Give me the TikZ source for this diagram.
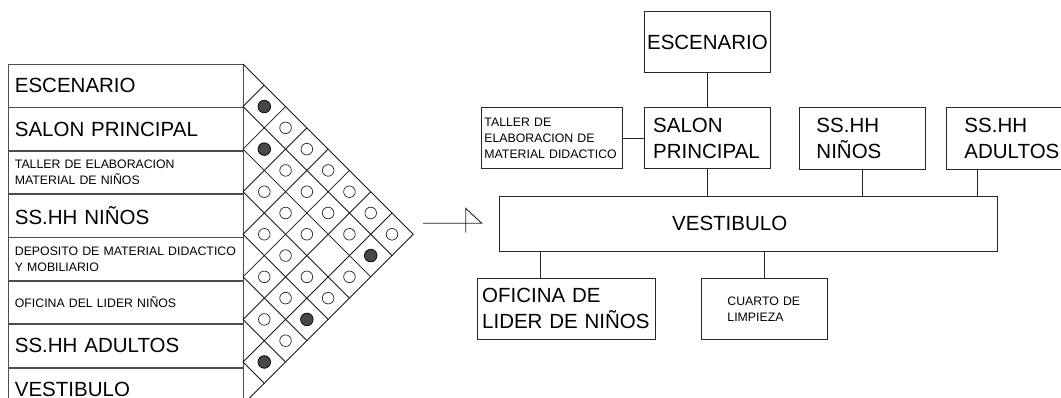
\documentclass[tikz,border=0pt]{standalone}
\usepackage{fontspec}
\setmainfont{Liberation Sans}
\usepackage{tikz}
\usetikzlibrary{positioning,calc}
\newcommand{\bigtxt}{\fontsize{20.5}{26}\selectfont}
\newcommand{\smalltxt}{\fontsize{12.3}{16}\selectfont}

\begin{document}
\begin{tikzpicture}[
    x=1pt, y=-1pt,
    box/.style={rectangle, draw=black!85, line width=0.9pt, anchor=north west, align=left, inner ysep=0pt},
    rowbox/.style={box, draw=black!70, line width=0.8pt, minimum height=42.57pt, inner xsep=6.5pt, text width=222pt},
    gridline/.style={line width=0.85pt, black!90},
    link/.style={line width=0.9pt, black!85},
    hollow/.style={draw=black!85, line width=0.7pt, fill=white},
    filled/.style={draw=black, line width=0.7pt, fill=black!72}
]

% Page
\path[use as bounding box, fill=white] (0,0) rectangle (1061,398);

% Room list
\node[rowbox, font=\bigtxt] (rEsc) at (8,64) {ESCENARIO};
\node[rowbox, font=\bigtxt] (rSalon) at (rEsc.south west) {SALON PRINCIPAL};
\node[rowbox, font=\smalltxt] (rTaller) at (rSalon.south west) {TALLER DE ELABORACION\\MATERIAL DE NIÑOS};
\node[rowbox, font=\bigtxt] (rNinos) at (rTaller.south west) {SS.HH NIÑOS};
\node[rowbox, font=\smalltxt] (rDeposito) at (rNinos.south west) {DEPOSITO DE MATERIAL DIDACTICO\\Y MOBILIARIO};
\node[rowbox, font=\smalltxt] (rOficina) at (rDeposito.south west) {OFICINA DEL LIDER NIÑOS};
\node[rowbox, font=\bigtxt] (rAdultos) at (rOficina.south west) {SS.HH ADULTOS};
\node[rowbox, font=\bigtxt] (rVest) at (rAdultos.south west) {VESTIBULO};

% Relation grid
\foreach \k in {0,...,8} {
    \draw[gridline] (243, {64+\k*42.57}) -- ++({(8-\k)*21.285}, {(8-\k)*21.285});
    \draw[gridline] (243, {64+\k*42.57}) -- ++({\k*21.285}, {-\k*21.285});
}

% Relations
\foreach \i/\j in {0/2,0/3,0/4,0/5,0/6,0/7,1/3,1/4,1/5,1/6,2/3,2/4,2/5,2/7,3/4,3/5,3/6,3/7,4/5,4/6,5/6,5/7}
    \draw[hollow] ({243+(\j-\i)*21.285}, {64+(\i+\j+1)*21.285}) circle (5.8);
\foreach \i/\j in {0/1,1/2,1/7,4/7,6/7}
    \draw[filled] ({243+(\j-\i)*21.285}, {64+(\i+\j+1)*21.285}) circle (6.3);

% Arrow
\coordinate (arrtail) at (423,223.3);
\coordinate (arrtip) at (481.7,223.3);
\draw[link] (arrtail) -- (arrtip) -- ++(-16,-15) -- ++(0,24.4);

% Diagram
\node[box, font=\bigtxt, align=center, inner xsep=2pt, text width=122pt, minimum height=60.7pt] (esc) at (644,11.3) {ESCENARIO};
\node[box, font=\bigtxt, inner xsep=8.7pt, text width=108.6pt, minimum height=61pt] (salon) at (644,107.3) {SALON\\PRINCIPAL};
\node[box, font=\smalltxt, inner xsep=3.3pt, text width=134.7pt, minimum height=61pt] (taller) at (480.7,107.3) {TALLER DE\\ELABORACION DE\\MATERIAL DIDACTICO};
\node[box, font=\bigtxt, inner xsep=17.3pt, text width=91.4pt, minimum height=61.3pt] (ninos) at (798.7,107.3) {SS.HH\\NIÑOS};
\node[box, font=\bigtxt, inner xsep=18pt, text width=100pt, minimum height=61.3pt] (adultos) at (946,107.3) {SS.HH\\ADULTOS};
\node[box, font=\bigtxt, inner xsep=172.4pt, text width=153.2pt, minimum height=55.3pt] (vest) at (499.3,195.7) {VESTIBULO};
\node[box, font=\bigtxt, inner xsep=4.4pt, text width=168.9pt, minimum height=61.3pt] (oficina) at (477.3,277.7) {OFICINA DE\\LIDER DE NIÑOS};
\node[box, font=\smalltxt, inner xsep=26pt, text width=74.3pt, minimum height=61.3pt] (cuarto) at (701,277.7) {CUARTO DE\\LIMPIEZA};

% Links
\draw[link] (esc) -- (salon);
\draw[link] (taller) -- (salon);
\draw[link] (salon.south) -- (salon.south |- vest.north);
\draw[link] (ninos.south) -- (ninos.south |- vest.north);
\draw[link] ([xshift=31.3pt]adultos.south west) -- ([xshift=31.3pt]adultos.south west |- vest.north);
\draw[link] ([xshift=63pt]oficina.north west) -- ([xshift=63pt]oficina.north west |- vest.south);
\draw[link] (cuarto.north) -- (cuarto.north |- vest.south);

\end{tikzpicture}
\end{document}
